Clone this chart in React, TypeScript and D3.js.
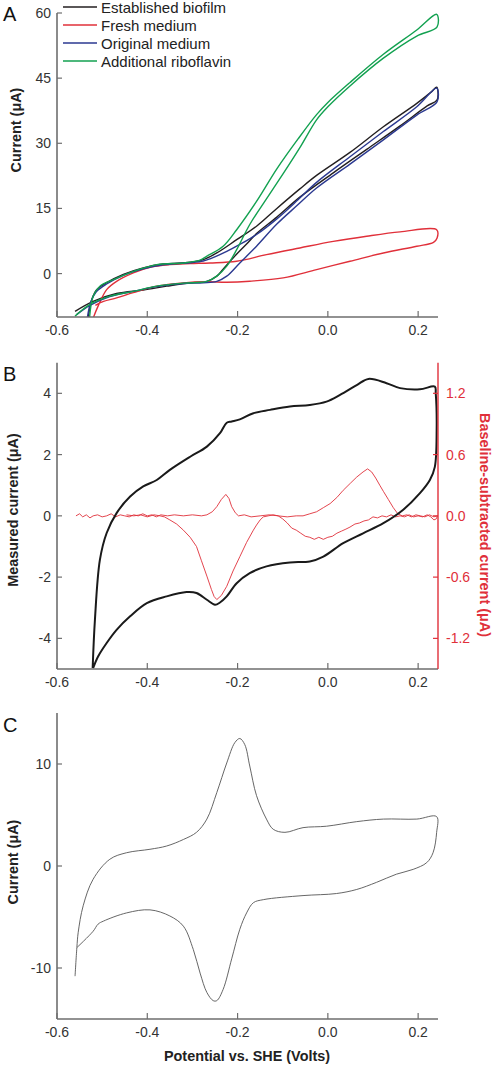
import React from "react";
import * as d3 from "d3";

type P = [number, number];

// ---------- Panel A ----------
const legendLabels = ["Established biofilm", "Fresh medium", "Original medium", "Additional riboflavin"];
const legendColors = ["#231f20", "#e0303a", "#2b3990", "#12a150"];

const establishedBiofilm: P[] = [
  [-0.531, -10.3], [-0.523, -6.0], [-0.512, -3.7], [-0.49, -2.1], [-0.453, -0.2], [-0.409, 1.3],
  [-0.365, 2.2], [-0.305, 2.6], [-0.276, 3.2], [-0.246, 4.75], [-0.202, 7.8], [-0.158, 10.9],
  [-0.113, 15.0], [-0.062, 19.5], [-0.025, 22.6], [0.049, 27.9], [0.123, 33.8], [0.197, 39.2],
  [0.23, 41.9], [0.241, 42.9],
  [0.242, 40.0], [0.22, 38.6], [0.16, 34.0], [0.086, 28.6], [0.012, 23.2], [-0.062, 17.6],
  [-0.113, 13.0], [-0.158, 9.2], [-0.18, 6.8], [-0.21, 3.6], [-0.232, 1.0], [-0.246, -0.6],
  [-0.268, -1.8], [-0.305, -2.1], [-0.357, -2.9], [-0.409, -3.8], [-0.468, -4.6], [-0.52, -6.4],
  [-0.56, -8.7],
];
const freshMedium: P[] = [
  [-0.52, -10.3], [-0.509, -7.5], [-0.49, -3.7], [-0.468, -1.8], [-0.431, 0.15], [-0.394, 1.46],
  [-0.35, 2.07], [-0.305, 2.3], [-0.261, 2.45], [-0.202, 2.83], [-0.136, 4.36], [-0.062, 5.9],
  [0.012, 7.4], [0.086, 8.6], [0.16, 9.6], [0.241, 10.1],
  [0.242, 8.2], [0.234, 7.2], [0.197, 6.3], [0.123, 4.75], [0.049, 2.83], [-0.025, 0.92],
  [-0.099, -1.0], [-0.173, -1.76], [-0.224, -2.0], [-0.268, -1.9], [-0.32, -2.14], [-0.379, -2.9],
  [-0.431, -4.4], [-0.468, -5.6], [-0.497, -6.4], [-0.515, -7.3],
];
const originalMedium: P[] = [
  [-0.533, -10.3], [-0.525, -6.5], [-0.513, -4.2], [-0.49, -2.4], [-0.453, -0.4], [-0.409, 1.1],
  [-0.365, 2.0], [-0.305, 2.5], [-0.276, 2.9], [-0.261, 3.4], [-0.224, 5.1], [-0.195, 6.7],
  [-0.158, 9.0], [-0.113, 12.6], [-0.066, 17.0], [-0.025, 21.0], [0.049, 26.9], [0.123, 32.7],
  [0.197, 38.4], [0.241, 42.7],
  [0.242, 39.6], [0.197, 36.5], [0.123, 30.8], [0.049, 25.2], [-0.025, 19.7], [-0.069, 15.6],
  [-0.113, 11.4], [-0.158, 6.3], [-0.195, 2.45], [-0.224, -0.6], [-0.246, -1.8], [-0.276, -2.1],
  [-0.32, -2.3], [-0.379, -3.0], [-0.431, -4.1], [-0.483, -5.3], [-0.527, -7.3], [-0.556, -9.4],
];
const additionalRiboflavin: P[] = [
  [-0.528, -10.3], [-0.52, -5.2], [-0.505, -2.9], [-0.475, -1.4], [-0.431, 0.5], [-0.379, 2.07],
  [-0.32, 2.45], [-0.283, 3.1], [-0.268, 4.0], [-0.232, 6.3], [-0.202, 10.1], [-0.158, 16.6],
  [-0.113, 24.1], [-0.066, 31.0], [-0.025, 36.6], [0.0, 39.4], [0.049, 44.0], [0.123, 50.5],
  [0.197, 56.1], [0.241, 59.7],
  [0.242, 56.8], [0.197, 54.7], [0.123, 49.6], [0.049, 43.2], [0.0, 38.4], [-0.025, 35.4],
  [-0.062, 29.0], [-0.099, 23.0], [-0.136, 17.2], [-0.173, 11.3], [-0.202, 5.5], [-0.224, 1.7],
  [-0.246, -0.6], [-0.268, -1.8], [-0.32, -2.2], [-0.379, -2.9], [-0.431, -4.1], [-0.483, -5.2],
  [-0.527, -7.1], [-0.56, -9.8],
];
const seriesA = [establishedBiofilm, freshMedium, originalMedium, additionalRiboflavin];
const ticksA = [0, 15, 30, 45, 60];

// ---------- Panel B ----------
const measuredCurrent: P[] = [
  [-0.521, -4.97], [-0.516, -3.4], [-0.505, -1.44], [-0.49, -0.56], [-0.468, 0.09], [-0.438, 0.63],
  [-0.409, 0.96], [-0.379, 1.17], [-0.35, 1.5], [-0.305, 1.93], [-0.268, 2.26], [-0.239, 2.7],
  [-0.224, 3.04], [-0.213, 3.08], [-0.195, 3.15], [-0.165, 3.35], [-0.128, 3.46], [-0.084, 3.57],
  [-0.04, 3.62], [-0.003, 3.73], [0.027, 3.95], [0.064, 4.27], [0.09, 4.47], [0.13, 4.33],
  [0.16, 4.17], [0.204, 4.13], [0.237, 4.22],
  [0.239, 4.0], [0.241, 2.8], [0.237, 1.6], [0.226, 1.17], [0.204, 0.74], [0.167, 0.2],
  [0.123, -0.24], [0.078, -0.57], [0.034, -0.89], [-0.01, -1.33], [-0.04, -1.49], [-0.084, -1.52],
  [-0.136, -1.65], [-0.173, -1.87], [-0.202, -2.2], [-0.224, -2.63], [-0.239, -2.83], [-0.25, -2.9],
  [-0.268, -2.74], [-0.291, -2.52], [-0.313, -2.49], [-0.357, -2.63], [-0.401, -2.85], [-0.438, -3.28],
  [-0.468, -3.72], [-0.49, -4.15], [-0.509, -4.59], [-0.52, -4.97],
];
const baselineForward: P[] = [
  [-0.558, 0.0], [-0.55, 0.02], [-0.543, -0.01], [-0.535, 0.01], [-0.527, -0.02], [-0.52, 0.0],
  [-0.51, 0.01], [-0.5, -0.01], [-0.49, 0.0], [-0.48, 0.02], [-0.47, -0.01], [-0.46, 0.01],
  [-0.45, 0.0], [-0.44, -0.01], [-0.43, 0.01], [-0.42, 0.0], [-0.41, 0.02], [-0.4, 0.0],
  [-0.39, 0.01], [-0.38, -0.01], [-0.37, 0.01], [-0.355, 0.0], [-0.34, 0.01], [-0.32, 0.0],
  [-0.3, 0.01], [-0.28, 0.0], [-0.268, 0.01], [-0.256, 0.04], [-0.246, 0.09], [-0.236, 0.16],
  [-0.226, 0.21], [-0.219, 0.17], [-0.213, 0.09], [-0.205, 0.03], [-0.198, 0.0], [-0.185, 0.01],
  [-0.17, -0.01], [-0.15, 0.0], [-0.13, 0.01], [-0.11, 0.0], [-0.09, -0.01], [-0.07, 0.0],
  [-0.055, 0.0], [-0.04, 0.02], [-0.025, 0.04], [-0.01, 0.08], [0.005, 0.12], [0.02, 0.18],
  [0.034, 0.25], [0.05, 0.32], [0.064, 0.38], [0.078, 0.43], [0.088, 0.46], [0.097, 0.43],
  [0.106, 0.37], [0.115, 0.3], [0.123, 0.24], [0.134, 0.16], [0.145, 0.08], [0.155, 0.02],
  [0.165, 0.0], [0.175, 0.01], [0.185, -0.01], [0.195, 0.01], [0.205, 0.0], [0.215, -0.01],
  [0.225, 0.01], [0.235, -0.01], [0.243, 0.0],
];
const baselineReverse: P[] = [
  [0.243, 0.0], [0.24, -0.03], [0.235, -0.04], [0.228, -0.01], [0.22, 0.01], [0.21, -0.01],
  [0.2, 0.0], [0.19, -0.01], [0.18, 0.01], [0.17, -0.01], [0.16, 0.0], [0.15, -0.01],
  [0.14, 0.01], [0.13, -0.01], [0.12, 0.0], [0.11, -0.02], [0.1, -0.01], [0.09, -0.04],
  [0.08, -0.05], [0.07, -0.07], [0.06, -0.08], [0.049, -0.11], [0.04, -0.13], [0.03, -0.15],
  [0.02, -0.17], [0.01, -0.2], [0.0, -0.21], [-0.01, -0.23], [-0.02, -0.21], [-0.03, -0.23],
  [-0.04, -0.21], [-0.05, -0.2], [-0.06, -0.17], [-0.07, -0.14], [-0.08, -0.12], [-0.09, -0.07],
  [-0.1, -0.03], [-0.11, 0.0], [-0.121, 0.01], [-0.132, 0.0], [-0.143, -0.01], [-0.15, -0.04],
  [-0.158, -0.09], [-0.165, -0.14], [-0.18, -0.26], [-0.195, -0.4], [-0.21, -0.54], [-0.224, -0.69],
  [-0.236, -0.78], [-0.246, -0.82], [-0.252, -0.79], [-0.258, -0.72], [-0.268, -0.59], [-0.28, -0.44],
  [-0.291, -0.3], [-0.305, -0.21], [-0.32, -0.14], [-0.335, -0.08], [-0.35, -0.04], [-0.362, -0.01],
  [-0.372, 0.0], [-0.385, 0.01], [-0.4, -0.01], [-0.415, 0.01], [-0.43, 0.0], [-0.446, 0.01],
];
const ticksBLeft = [-4, -2, 0, 2, 4];
const ticksBRight = [-1.2, -0.6, 0, 0.6, 1.2];

// ---------- Panel C ----------
const cvC: P[] = [
  [-0.56, -10.8], [-0.556, -8.0], [-0.553, -6.5], [-0.542, -3.9], [-0.52, -1.3], [-0.483, 0.66],
  [-0.446, 1.3], [-0.394, 1.64], [-0.357, 1.96], [-0.32, 2.6], [-0.291, 3.3], [-0.268, 4.6],
  [-0.246, 7.2], [-0.224, 10.1], [-0.206, 12.1], [-0.195, 12.5], [-0.184, 11.9], [-0.173, 9.8],
  [-0.158, 6.9], [-0.136, 4.6], [-0.121, 3.6], [-0.095, 3.3], [-0.055, 3.76], [-0.003, 3.9],
  [0.064, 4.35], [0.123, 4.6], [0.197, 4.6], [0.241, 4.84],
  [0.241, 3.3], [0.233, 1.3], [0.219, 0.33], [0.189, -0.33], [0.152, -0.8], [0.108, -1.6],
  [0.064, -2.3], [0.019, -2.7], [-0.055, -2.9], [-0.143, -3.3], [-0.165, -3.6], [-0.18, -4.6],
  [-0.195, -6.2], [-0.213, -9.1], [-0.232, -12.1], [-0.246, -13.2], [-0.254, -13.2], [-0.268, -12.4],
  [-0.283, -10.5], [-0.298, -8.2], [-0.32, -5.9], [-0.35, -4.9], [-0.394, -4.3], [-0.446, -4.6],
  [-0.497, -5.4], [-0.509, -5.7], [-0.52, -6.4], [-0.556, -8.0],
];
const ticksC = [-10, 0, 10];
const ticksX = [-0.6, -0.4, -0.2, 0.0, 0.2];

const FONT = "'Liberation Sans', Arial, Helvetica, sans-serif";
const AXIS = "#6e6e6e";
const RED = "#e0303a";
const TICK_FS = 14;
const LABEL_FS = 14.4;

export default function App() {
  const x = d3.scaleLinear().domain([-0.6, 0.244]).range([57, 438]);
  const yA = d3.scaleLinear().domain([-10, 60]).range([317, 13]);
  const yB = d3.scaleLinear().domain([-5, 5]).range([669, 362.7]);
  const yBR = d3.scaleLinear().domain([-1.5, 1.5]).range([669, 362.7]);
  const yC = d3.scaleLinear().domain([-15, 15]).range([1019, 713]);

  const mk = (y: d3.ScaleLinear<number, number>, smooth = true) =>
    d3
      .line<P>()
      .x((d) => x(d[0]))
      .y((d) => y(d[1]))
      .curve(smooth ? d3.curveCatmullRom.alpha(0.5) : d3.curveLinear);

  const x0 = x.range()[0];
  const x1 = x.range()[1];

  const xAxis = (y: d3.ScaleLinear<number, number>) => {
    const by = y.range()[0];
    return (
      <g>
        <line x1={x0} x2={x1} y1={by} y2={by} stroke={AXIS} strokeWidth={1.6} />
        {ticksX.map((t) => (
          <g key={t}>
            <line x1={x(t)} x2={x(t)} y1={by} y2={by - 6} stroke={AXIS} strokeWidth={1.2} />
            <text x={x(t)} y={by + 18} textAnchor="middle" fontSize={TICK_FS} fill="#333" fontFamily={FONT}>
              {t.toFixed(1)}
            </text>
          </g>
        ))}
      </g>
    );
  };
  const yAxis = (y: d3.ScaleLinear<number, number>, ticks: number[]) => (
    <g>
      <line x1={x0} x2={x0} y1={y.range()[0]} y2={y.range()[1]} stroke={AXIS} strokeWidth={1.6} />
      {ticks.map((t) => (
        <g key={t}>
          <line x1={x0} x2={x0 + 5} y1={y(t)} y2={y(t)} stroke={AXIS} strokeWidth={1.2} />
          <text x={x0 - 6} y={y(t) + 5} textAnchor="end" fontSize={TICK_FS} fill="#333" fontFamily={FONT}>
            {String(t)}
          </text>
        </g>
      ))}
    </g>
  );

  const clip = (id: string, y: d3.ScaleLinear<number, number>) => (
    <clipPath id={id}>
      <rect x={x0} y={y.range()[1]} width={x1 - x0 + 2} height={y.range()[0] - y.range()[1]} />
    </clipPath>
  );

  return (
    <svg
      width={492}
      height={1066}
      style={{ position: "absolute", left: 0, top: 0, background: "#fff" }}
      fontFamily={FONT}
    >
      <defs>
        {clip("clipA", yA)}
        {clip("clipB", yB)}
        {clip("clipC", yC)}
      </defs>

      {/* Panel A */}
      <text x={3} y={21} fontSize={20} fill="#111">A</text>
      <g clipPath="url(#clipA)">
        {seriesA.map((s, i) => (
          <path key={i} d={mk(yA)(s) || ""} fill="none" stroke={legendColors[i]} strokeWidth={1.4} />
        ))}
      </g>
      {yAxis(yA, ticksA)}
      {xAxis(yA)}
      <text transform={`translate(21,130) rotate(-90)`} textAnchor="middle" fontSize={LABEL_FS} fontWeight="bold" fill="#222">
        Current (μA)
      </text>
      {legendLabels.map((l, i) => (
        <g key={l}>
          <line x1={63} x2={97} y1={7 + i * 18} y2={7 + i * 18} stroke={legendColors[i]} strokeWidth={1.4} />
          <text x={101} y={7 + i * 18 + 5.5} fontSize={15} fill="#222">
            {l}
          </text>
        </g>
      ))}

      {/* Panel B */}
      <text x={3} y={381} fontSize={20} fill="#111">B</text>
      <g clipPath="url(#clipB)">
        <path d={mk(yBR, false)(baselineForward) || ""} fill="none" stroke={RED} strokeWidth={0.9} />
        <path d={mk(yBR, false)(baselineReverse) || ""} fill="none" stroke={RED} strokeWidth={0.9} />
        <path d={mk(yB)(measuredCurrent) || ""} fill="none" stroke="#1a1a1a" strokeWidth={2} />
      </g>
      {yAxis(yB, ticksBLeft)}
      {xAxis(yB)}
      <g>
        <line x1={x1} x2={x1} y1={yBR.range()[0]} y2={yBR.range()[1]} stroke={RED} strokeWidth={1.4} />
        {ticksBRight.map((t) => (
          <g key={t}>
            <line x1={x1 - 5} x2={x1} y1={yBR(t)} y2={yBR(t)} stroke={RED} strokeWidth={1.2} />
            <text x={x1 + 8} y={yBR(t) + 5} fontSize={TICK_FS} fill={RED}>
              {t.toFixed(1)}
            </text>
          </g>
        ))}
      </g>
      <text transform={`translate(18,510) rotate(-90)`} textAnchor="middle" fontSize={LABEL_FS} fontWeight="bold" fill="#222">
        Measured current (μA)
      </text>
      <text transform={`translate(480,525) rotate(90)`} textAnchor="middle" fontSize={LABEL_FS} fontWeight="bold" fill={RED}>
        Baseline-subtracted current (μA)
      </text>

      {/* Panel C */}
      <text x={3} y={732} fontSize={20} fill="#111">C</text>
      <g clipPath="url(#clipC)">
        <path d={mk(yC)(cvC) || ""} fill="none" stroke="#555" strokeWidth={0.9} />
      </g>
      {yAxis(yC, ticksC)}
      {xAxis(yC)}
      <text transform={`translate(18,862) rotate(-90)`} textAnchor="middle" fontSize={LABEL_FS} fontWeight="bold" fill="#222">
        Current (μA)
      </text>
      <text x={247} y={1061} textAnchor="middle" fontSize={LABEL_FS} fontWeight="bold" fill="#222">
        Potential vs. SHE (Volts)
      </text>
    </svg>
  );
}
